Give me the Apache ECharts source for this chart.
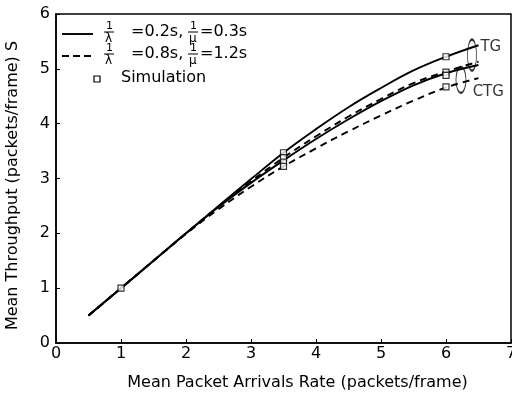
<!DOCTYPE html>
<html>
<head>
<meta charset="utf-8">
<script src="https://cdn.jsdelivr.net/npm/echarts@6/dist/echarts.min.js"></script>
<style>
  html, body { margin: 0; padding: 0; background: #fff; }
  #chart { width: 512px; height: 402px; }
</style>
</head>
<body>
<div id="chart"></div>
<script>
// arrival rate samples (packets/frame)
var rates = [0.5, 1, 1.5, 2, 2.5, 3, 3.5, 4, 4.5, 5, 5.5, 6, 6.5];
// throughput curves
var tgShort  = [0.5, 1.0, 1.5, 2.0, 2.5, 2.99, 3.47, 3.9, 4.3, 4.65, 4.97, 5.22, 5.43];
var tgLong   = [0.5, 1.0, 1.5, 2.0, 2.49, 2.95, 3.38, 3.77, 4.13, 4.45, 4.74, 4.95, 5.13];
var ctgShort = [0.5, 1.0, 1.5, 2.0, 2.48, 2.92, 3.33, 3.72, 4.08, 4.41, 4.7, 4.92, 5.07];
var ctgLong  = [0.5, 1.0, 1.5, 1.99, 2.44, 2.85, 3.22, 3.55, 3.86, 4.15, 4.42, 4.66, 4.83];
// simulation points
var simX = [1, 3.5, 3.5, 3.5, 3.5, 6, 6, 6, 6];
var simY = [1, 3.47, 3.38, 3.3, 3.22, 5.22, 4.94, 4.88, 4.67];
// group labels
var groupNames = ['TG', 'CTG'];
var groupCenters = [[6.4, 5.25], [6.23, 4.8]];
var groupLabelPos = [[6.53, 5.4], [6.41, 4.58]];

var FONT = 'DejaVu Sans';
var chart = echarts.init(document.getElementById('chart'));

function pairs(xArr, yArr) {
	var out = [];
	for (var i = 0; i < xArr.length; i++) out.push([xArr[i], yArr[i]]);
	return out;
}

function curve(data, dashed) {
	return {
		type: 'line',
		data: pairs(rates, data),
		smooth: 0.4,
		showSymbol: false,
		silent: true,
		z: 2,
		lineStyle: { color: '#000', width: 1.9, type: dashed ? [7, 5] : 'solid' }
	};
}

// legend drawn by hand so fractions can be stacked
function frac(cx, cy, den) {
	return [
		{ type: 'text', left: cx - 3, top: cy - 13, style: { text: '1', font: '11px ' + FONT, fill: '#000' } },
		{ type: 'line', shape: { x1: cx - 5, y1: cy - 2, x2: cx + 5, y2: cy - 2 }, style: { stroke: '#000', lineWidth: 1 } },
		{ type: 'text', left: cx - 4, top: cy - 1, style: { text: den, font: '12px ' + FONT, fill: '#000' } }
	];
}
function legendRow(y, dashed, a, b) {
	var items = [
		{ type: 'line', shape: { x1: 62, y1: y, x2: 93, y2: y }, style: { stroke: '#000', lineWidth: 1.9, lineDash: dashed ? [7, 4] : null } }
	];
	items = items.concat(frac(109, y, 'λ'));
	items.push({ type: 'text', left: 131, top: y - 10, style: { text: '=' + a + ',', font: '16px ' + FONT, fill: '#000' } });
	items = items.concat(frac(193, y, 'μ'));
	items.push({ type: 'text', left: 200, top: y - 10, style: { text: '=' + b, font: '16px ' + FONT, fill: '#000' } });
	return items;
}
var legendItems = [].concat(
	legendRow(34, false, '0.2s', '0.3s'),
	legendRow(56, true, '0.8s', '1.2s'),
	[
		{ type: 'rect', shape: { x: 94, y: 76, width: 6, height: 6 }, style: { fill: '#fff', stroke: '#000', lineWidth: 1.2 } },
		{ type: 'text', left: 121, top: 70, style: { text: 'Simulation', font: '16px ' + FONT, fill: '#000' } }
	]
);

var option = {
	animation: false,
	backgroundColor: '#fff',
	grid: {
		left: 56, right: 1, top: 14, bottom: 59,
		outerBoundsMode: 'none',
		show: true, borderColor: '#000', borderWidth: 1.5
	},
	xAxis: {
		type: 'value', min: 0, max: 7, interval: 1,
		name: 'Mean Packet Arrivals Rate (packets/frame)',
		nameLocation: 'middle', nameGap: 32,
		nameTextStyle: { fontFamily: FONT, fontSize: 16, color: '#000', padding: [0, 0, 0, 28] },
		axisLine: { lineStyle: { color: '#000', width: 1.5 } },
		axisTick: { inside: true, length: 4, lineStyle: { color: '#000' } },
		axisLabel: { fontFamily: FONT, fontSize: 16, color: '#000', margin: 3 },
		splitLine: { show: false }
	},
	yAxis: {
		type: 'value', min: 0, max: 6, interval: 1,
		name: 'Mean Throughput (packets/frame) S',
		nameLocation: 'middle', nameGap: 35,
		nameTextStyle: { fontFamily: FONT, fontSize: 16, color: '#000', padding: [0, 14, 0, 0] },
		axisLine: { lineStyle: { color: '#000', width: 1.5 } },
		axisTick: { inside: true, length: 4, lineStyle: { color: '#000' } },
		axisLabel: { fontFamily: FONT, fontSize: 16, color: '#000', margin: 6 },
		splitLine: { show: false }
	},
	graphic: legendItems,
	series: [
		curve(tgShort, false),
		curve(tgLong, true),
		curve(ctgShort, false),
		curve(ctgLong, true),
		{
			type: 'scatter',
			data: pairs(simX, simY),
			symbol: 'rect',
			symbolSize: 6,
			z: 5,
			itemStyle: { color: '#fff', borderColor: '#000', borderWidth: 1.2 }
		},
		{
			type: 'scatter',
			data: groupCenters,
			symbol: 'circle',
			symbolSize: function (v, p) { return p.dataIndex === 0 ? [9, 31] : [10, 26]; },
			z: 4,
			itemStyle: { color: 'rgba(0,0,0,0)', borderColor: '#000', borderWidth: 1.4 }
		},
		{
			type: 'scatter',
			data: groupLabelPos,
			symbolSize: 0,
			label: {
				show: true, position: 'right', distance: 0,
				formatter: function (p) { return groupNames[p.dataIndex]; },
				fontFamily: FONT, fontSize: 15, color: '#000'
			}
		}
	]
};
chart.setOption(option);
</script>
</body>
</html>
